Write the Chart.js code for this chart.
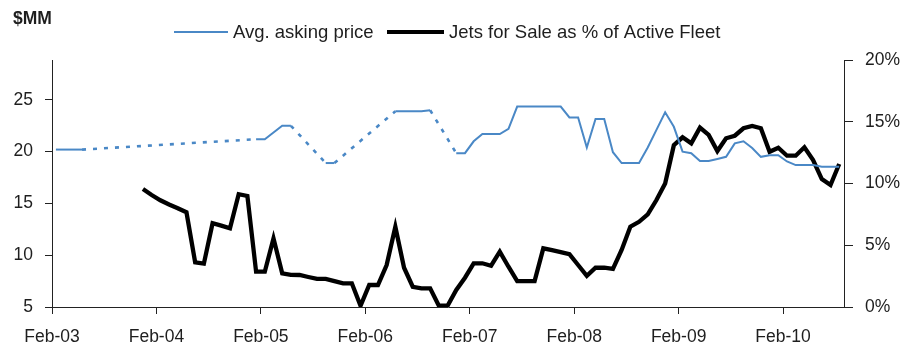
<!DOCTYPE html>
<html>
<head>
<meta charset="utf-8">
<script src="https://cdn.jsdelivr.net/npm/chart.js@4/dist/chart.umd.min.js"></script>
<style>
  html, body { margin: 0; padding: 0; background: #ffffff; }
  #wrap { width: 913px; height: 351px; }
</style>
</head>
<body>
<div id="wrap"><canvas id="chart" width="913" height="351"></canvas></div>
<script>
// Monthly observations, Feb-03 .. Aug-10
const months = [
  'Feb-03','Mar-03','Apr-03','May-03','Jun-03','Jul-03','Aug-03','Sep-03','Oct-03','Nov-03','Dec-03','Jan-04',
  'Feb-04','Mar-04','Apr-04','May-04','Jun-04','Jul-04','Aug-04','Sep-04','Oct-04','Nov-04','Dec-04','Jan-05',
  'Feb-05','Mar-05','Apr-05','May-05','Jun-05','Jul-05','Aug-05','Sep-05','Oct-05','Nov-05','Dec-05','Jan-06',
  'Feb-06','Mar-06','Apr-06','May-06','Jun-06','Jul-06','Aug-06','Sep-06','Oct-06','Nov-06','Dec-06','Jan-07',
  'Feb-07','Mar-07','Apr-07','May-07','Jun-07','Jul-07','Aug-07','Sep-07','Oct-07','Nov-07','Dec-07','Jan-08',
  'Feb-08','Mar-08','Apr-08','May-08','Jun-08','Jul-08','Aug-08','Sep-08','Oct-08','Nov-08','Dec-08','Jan-09',
  'Feb-09','Mar-09','Apr-09','May-09','Jun-09','Jul-09','Aug-09','Sep-09','Oct-09','Nov-09','Dec-09','Jan-10',
  'Feb-10','Mar-10','Apr-10','May-10','Jun-10','Jul-10','Aug-10'
];

// Average asking price, $MM (null = no survey that month)
const askingPrice = [
  20.2, 20.2, 20.2, 20.2, null, null, null, null, null, null, null, null,
  null, null, null, null, null, null, null, null, null, null, null, 21.2,
  21.2, 21.85, 22.5, 22.5, null, null, null, 18.9, 18.9, null, null, null,
  null, null, null, 23.9, 23.9, 23.9, 23.9, 24.0, null, null, 19.85, 19.85,
  21.0, 21.7, 21.7, 21.7, 22.2, 24.35, 24.35, 24.35, 24.35, 24.35, 24.35, 23.3,
  23.3, 20.4, 23.15, 23.15, 19.95, 18.9, 18.9, 18.9, 20.4, 22.1, 23.8, 22.4,
  20.0, 19.85, 19.1, 19.1, 19.3, 19.5, 20.8, 21.0, 20.35, 19.5, 19.65, 19.65,
  19.05, 18.7, 18.7, 18.7, 18.55, 18.55, 18.55
];

// Jets for sale as % of active fleet
const jetsForSalePct = [
  null, null, null, null, null, null, null, null, null, null, 9.55, 9.07,
  8.64, 8.3, 8.0, 7.67, 3.62, 3.51, 6.78, 6.59, 6.37, 9.13, 8.99, 2.86,
  2.86, 5.56, 2.73, 2.6, 2.59, 2.43, 2.27, 2.27, 2.09, 1.92, 1.92, 0.1,
  1.78, 1.78, 3.4, 6.5, 3.18, 1.64, 1.51, 1.51, 0.1, 0.1, 1.38, 2.37,
  3.54, 3.54, 3.34, 4.48, 3.26, 2.1, 2.1, 2.1, 4.75, 4.6, 4.45, 4.27,
  3.4, 2.53, 3.18, 3.18, 3.08, 4.62, 6.5, 6.9, 7.5, 8.66, 10.0, 13.1,
  13.74, 13.25, 14.52, 13.93, 12.63, 13.66, 13.87, 14.47, 14.66, 14.47, 12.57, 12.9,
  12.25, 12.25, 12.93, 11.9, 10.36, 9.88, 11.58
];

const yearTicks = ['Feb-03','Feb-04','Feb-05','Feb-06','Feb-07','Feb-08','Feb-09','Feb-10'];

const seriesNames = ['Avg. asking price', 'Jets for Sale as % of Active Fleet'];

const FONT = "'Liberation Sans', Arial, Helvetica, sans-serif";
const TEXT = '#1e1e1e';
const AXIS = '#222222';
const BLUE = '#4a88c6';
const BLACK = '#000000';

// observations sit mid-month on a month-count axis starting at Feb-03
const MID_MONTH = 0.45;
const toPoints = values => months.map((m, i) => ({ x: i + MID_MONTH, y: values[i] }));

const gapDash = ctx => (ctx.p0.skip || ctx.p1.skip) ? [4, 7] : undefined;
const gapWidth = ctx => (ctx.p0.skip || ctx.p1.skip) ? 2.6 : undefined;

// "$MM" unit label and the legend row above the plot
const headerPlugin = {
  id: 'header',
  afterDraw(chart) {
    const ctx = chart.ctx;
    ctx.save();
    ctx.fillStyle = TEXT;
    ctx.textBaseline = 'alphabetic';
    ctx.textAlign = 'left';
    ctx.font = `bold 17.5px ${FONT}`;
    ctx.fillText('$MM', 13, 24);

    const items = [
      { x: 174, w: 54, color: BLUE, width: 2, text: seriesNames[0] },
      { x: 387, w: 57, color: BLACK, width: 4, text: seriesNames[1] }
    ];
    ctx.font = `18.5px ${FONT}`;
    items.forEach(it => {
      ctx.beginPath();
      ctx.strokeStyle = it.color;
      ctx.lineWidth = it.width;
      ctx.moveTo(it.x, 32);
      ctx.lineTo(it.x + it.w, 32);
      ctx.stroke();
      ctx.fillStyle = TEXT;
      ctx.fillText(it.text, it.x + it.w + 5, 38);
    });
    ctx.restore();
  }
};

const tickFont = { family: FONT, size: 17.5 };

new Chart(document.getElementById('chart'), {
  type: 'line',
  data: {
    datasets: [
      {
        label: seriesNames[0],
        data: toPoints(askingPrice),
        yAxisID: 'y',
        borderColor: BLUE,
        backgroundColor: BLUE,
        borderWidth: 2,
        pointRadius: 0,
        tension: 0,
        spanGaps: true,
        segment: { borderDash: gapDash, borderWidth: gapWidth }
      },
      {
        label: seriesNames[1],
        data: toPoints(jetsForSalePct),
        yAxisID: 'y1',
        borderColor: BLACK,
        backgroundColor: BLACK,
        borderWidth: 4.3,
        pointRadius: 0,
        tension: 0,
        spanGaps: false
      }
    ]
  },
  options: {
    responsive: false,
    animation: false,
    devicePixelRatio: 1,
    layout: { padding: { top: 60, left: 0, right: 0, bottom: 0 } },
    plugins: {
      legend: { display: false },
      tooltip: { enabled: false }
    },
    scales: {
      x: {
        type: 'linear',
        min: 0,
        max: 91,
        afterFit: s => { s.height = 44; },
        border: { display: true, color: AXIS, width: 1 },
        grid: { drawOnChartArea: false, drawTicks: true, tickLength: 7, tickColor: AXIS },
        ticks: {
          stepSize: 12,
          includeBounds: false,
          autoSkip: false,
          maxRotation: 0,
          padding: 13,
          color: TEXT,
          font: tickFont,
          callback: v => yearTicks[v / 12]
        }
      },
      y: {
        position: 'left',
        min: 5,
        max: 28.85,
        afterFit: s => { s.width = 52; },
        border: { display: true, color: AXIS, width: 1 },
        grid: { drawOnChartArea: false, drawTicks: true, tickLength: 7, tickColor: AXIS },
        ticks: { stepSize: 5, includeBounds: false, padding: 12, color: TEXT, font: tickFont }
      },
      y1: {
        position: 'right',
        min: 0,
        max: 20,
        afterFit: s => { s.width = 69; },
        border: { display: true, color: AXIS, width: 1 },
        grid: { drawOnChartArea: false, drawTicks: true, tickLength: 9, tickColor: AXIS },
        ticks: { stepSize: 5, padding: 12, color: TEXT, font: tickFont, callback: v => v + '%' }
      }
    }
  },
  plugins: [headerPlugin]
});
</script>
</body>
</html>
